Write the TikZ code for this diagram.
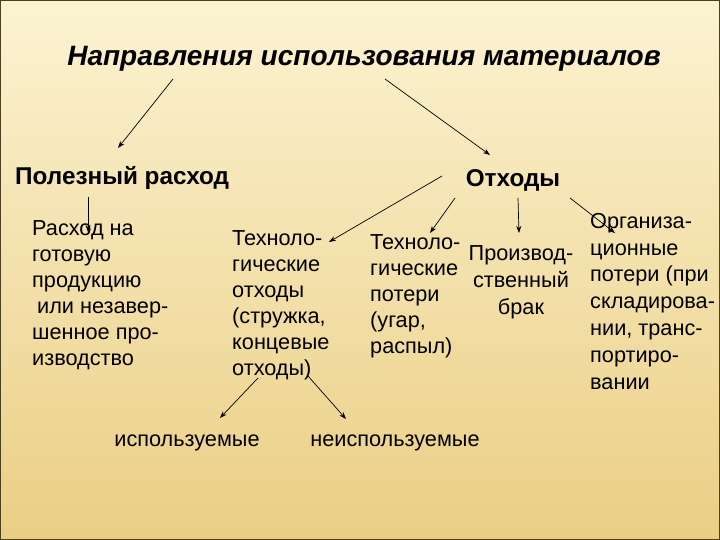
\documentclass[tikz,border=0pt]{standalone}
\usepackage{fontspec}
\setmainfont{Liberation Sans}
\usetikzlibrary{arrows.meta, positioning, calc}

\definecolor{paperTop}{HTML}{FCF3D2}
\definecolor{paperMid}{HTML}{F5E2A8}
\definecolor{paperBottom}{HTML}{EACE84}
\definecolor{slideFrame}{HTML}{4B4020}

\begin{document}
\begin{tikzpicture}[
        x=1pt, y=-1pt,
        head/.style={
            font=\fontsize{28}{32}\selectfont\bfseries\itshape,
            inner sep=0pt,
            anchor=base
        },
        branch/.style={
            font=\fontsize{24.3}{28}\selectfont\bfseries,
            inner sep=0pt
        },
        txt/.style={
            font=\fontsize{21.7}{26}\selectfont,
            align=left,
            inner sep=0pt,
            anchor=north west
        },
        arrow/.style={
            -{Stealth[length=7pt, width=5pt]},
            line width=0.7pt
        }
    ]

    % Slide background
    \useasboundingbox (0,0) rectangle (720,540);
    \shade[top color=paperTop, middle color=paperMid, bottom color=paperBottom] (0,0) rectangle (720,540);
    \draw[slideFrame, line width=2pt] (0,0) rectangle (720,540);

    % Title
    \node[head] (title) at (364,66) {Направления использования материалов};

    % Two branches
    \node[branch, anchor=base west] (useful) at (15,185) {Полезный расход};
    \node[branch, anchor=base] (waste) at (513,187) {Отходы};

    % Useful consumption
    \node[txt] (ready) at (32,220) {Расход на\\готовую\\продукцию\\\hspace*{5pt}или незавер-\\шенное про-\\изводство};

    % Kinds of waste
    \node[txt] (techwaste) at (232,230) {Техноло-\\гические\\отходы\\(стружка,\\концевые\\отходы)};
    \node[txt] (techloss) at (370,234) {Техноло-\\гические\\потери\\(угар,\\распыл)};
    \node[txt, align=center, anchor=north,
        font=\fontsize{21.7}{27}\selectfont] (defect) at (521,245) {Производ-\\ственный\\брак};
    \node[txt, font=\fontsize{21.7}{26.8}\selectfont] (orgloss) at (590,213) {Организа-\\ционные\\потери (при\\складирова-\\нии, транс-\\портиро-\\вании};

    % Use of technological waste
    \node[txt, anchor=base] (used) at (187,446) {используемые};
    \node[txt, anchor=base] (unused) at (395,446) {неиспользуемые};

    % Arrows
    \draw[arrow] ($(title.base)+(-191,13)$) -- ($(useful.base west)+(103,-37)$);
    \draw[arrow] ($(title.base)+(21,13)$) -- ($(waste.base)+(-23,-32)$);
    \draw[arrow] ($(useful.base west)+(73,12)$) -- ($(ready.north west)+(56,12)$);
    \draw[arrow] ($(waste.base)+(-71,-11)$) -- ($(techwaste.north west)+(97,12)$);
    \draw[arrow] ($(waste.base)+(-58,11)$) -- ($(techloss.north west)+(60,-1)$);
    \draw[arrow] ($(waste.base)+(5,11)$) -- ($(defect.north)+(-2,-12)$);
    \draw[arrow] ($(waste.base)+(57,11)$) -- ($(orgloss.north west)+(25,20)$);
    \draw[arrow] ($(techwaste.north west)+(26,148)$) -- ($(used.base)+(33,-28)$);
    \draw[arrow] ($(techwaste.north west)+(76,146)$) -- ($(unused.base)+(-49,-27)$);

\end{tikzpicture}
\end{document}
